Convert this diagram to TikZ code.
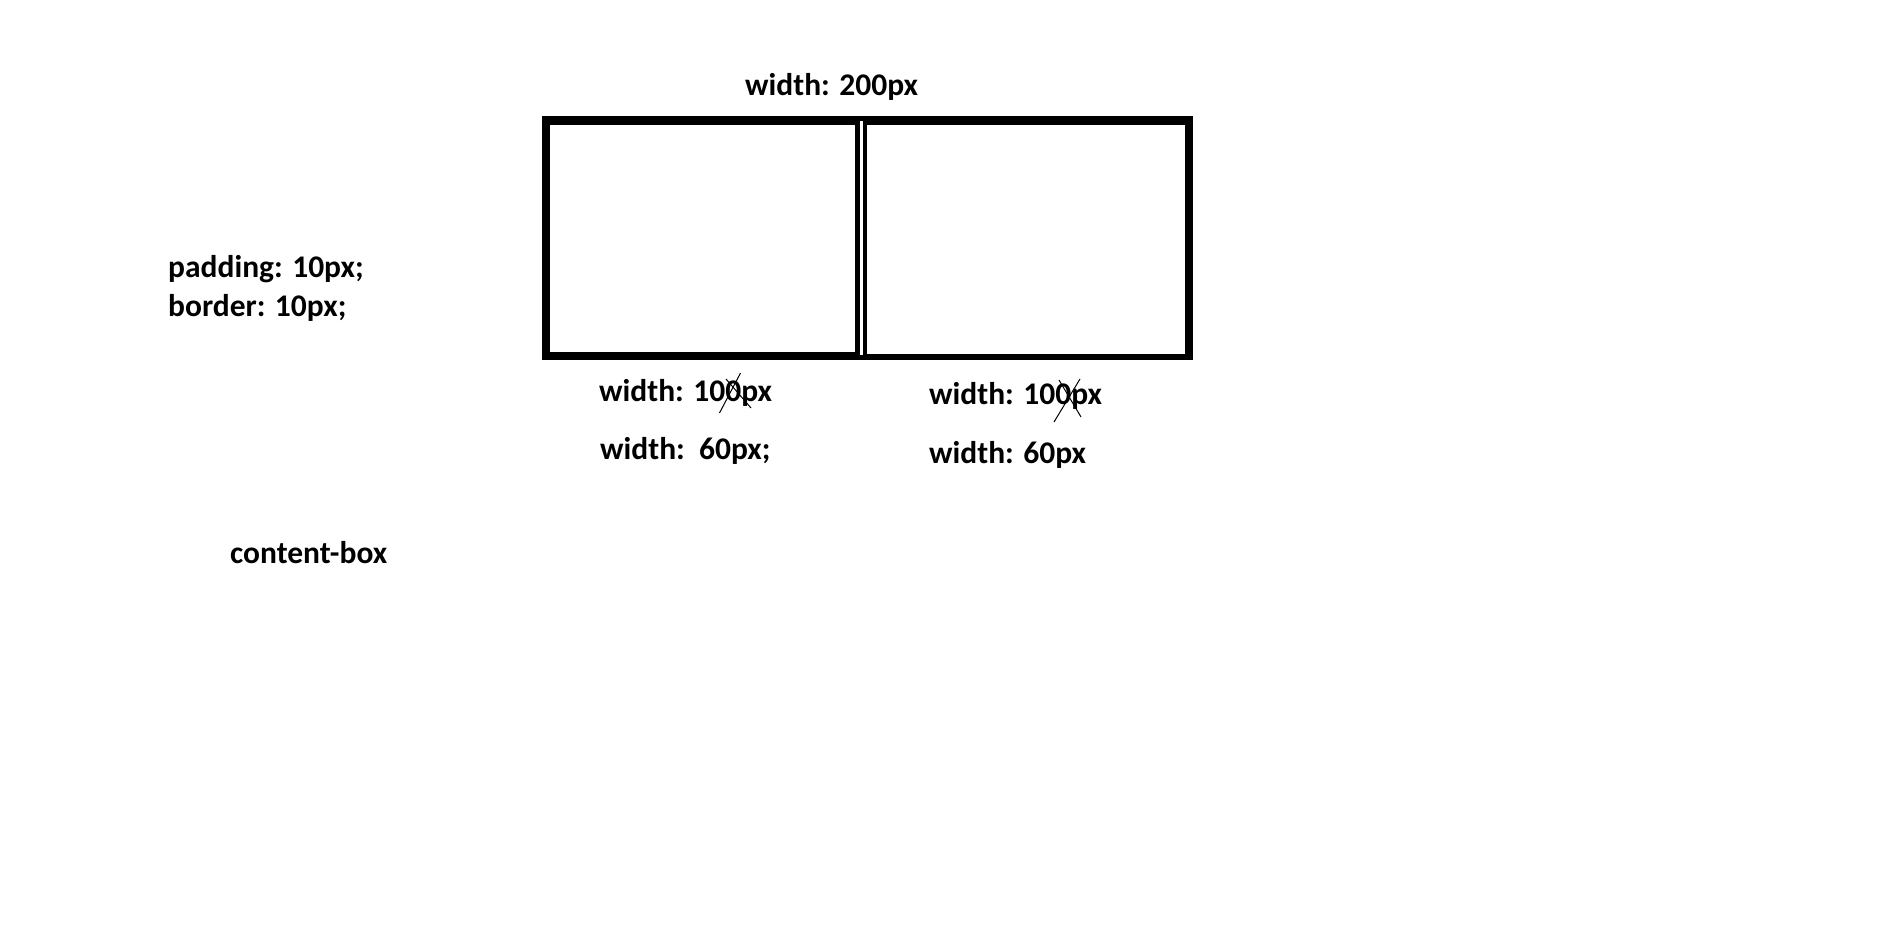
\documentclass[tikz,border=0pt]{standalone}
\usepackage{fontspec}
\setmainfont{Carlito}
\begin{document}
\begin{tikzpicture}[x=1pt,y=-1pt,
  lbl/.style={font=\fontsize{31.5}{37}\selectfont\bfseries, anchor=base west, inner sep=0pt, text=black},
  strike/.style={black, line width=1pt}]
\useasboundingbox (0,0) rectangle (1879,935);
% boxes: outer black frame with white interiors
\fill[black] (542,116) rectangle (1192.5,360);
\fill[white] (550,125) rectangle (855,352.3);
\fill[white] (867,125) rectangle (1185,354);
\fill[white] (860,120.7) rectangle (863,355);
% labels
\node[lbl] (w200) at (745,95.7) {width: 200px};
\node[lbl] (pad) at (168,277) {padding: 10px;};
\node[lbl] (bor) at (168,316) {border: 10px;};
\node[lbl] (cb) at (230,563.5) {content-box};
\node[lbl] (l100) at (599,401) {width: 100px};
\node[lbl] (l60) at (600,459) {width:\ \ 60px;};
\node[lbl] (r100) at (929,404) {width: 100px};
\node[lbl] (r60) at (929,463) {width: 60px};
% strike marks
\draw[strike] (719.5,413) -- (740.5,373);
\draw[strike] (726,379) -- (751,408);
\draw[strike] (1054,422) -- (1080,379);
\draw[strike] (1059,380) -- (1081,417);
\end{tikzpicture}
\end{document}
